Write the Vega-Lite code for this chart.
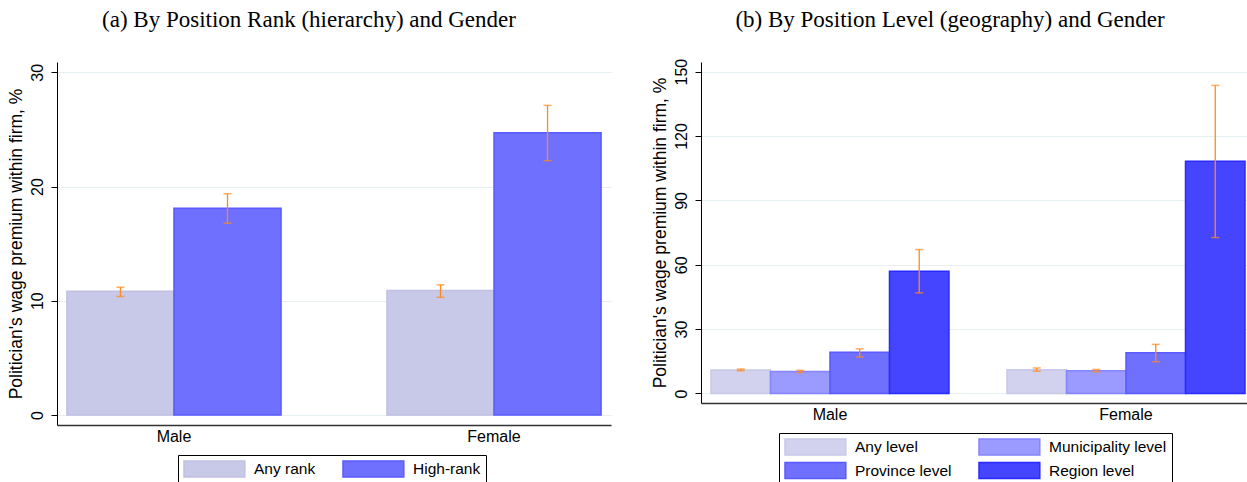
{
  "$schema": "https://vega.github.io/schema/vega-lite/v6.json",
  "background": "white",
  "padding": {"left": 7, "top": 8, "right": 0, "bottom": 0},
  "datasets": {
    "rank": [
      {"gender": "Male", "rank": "Any rank", "premium": 10.83, "lo": 10.37, "hi": 11.18},
      {"gender": "Male", "rank": "High-rank", "premium": 18.1, "lo": 16.79, "hi": 19.37},
      {"gender": "Female", "rank": "Any rank", "premium": 10.9, "lo": 10.3, "hi": 11.39},
      {"gender": "Female", "rank": "High-rank", "premium": 24.7, "lo": 22.26, "hi": 27.1}
    ],
    "level": [
      {"gender": "Male", "level": "Any level", "premium": 11.0, "lo": 10.6, "hi": 11.4},
      {"gender": "Male", "level": "Municipality level", "premium": 10.3, "lo": 9.8, "hi": 10.8},
      {"gender": "Male", "level": "Province level", "premium": 19.2, "lo": 17.0, "hi": 20.8},
      {"gender": "Male", "level": "Region level", "premium": 57.0, "lo": 46.9, "hi": 67.1},
      {"gender": "Female", "level": "Any level", "premium": 11.1, "lo": 10.4, "hi": 11.9},
      {"gender": "Female", "level": "Municipality level", "premium": 10.6, "lo": 10.1, "hi": 11.2},
      {"gender": "Female", "level": "Province level", "premium": 19.0, "lo": 14.8, "hi": 22.9},
      {"gender": "Female", "level": "Region level", "premium": 108.3, "lo": 72.7, "hi": 143.6}
    ]
  },
  "spacing": 40,
  "hconcat": [
    {
      "title": {"text": "(a) By Position Rank (hierarchy) and Gender", "offset": 30},
      "width": 554,
      "height": 363,
      "data": {"name": "rank"},
      "encoding": {
        "x": {
          "field": "gender",
          "type": "nominal",
          "sort": ["Male", "Female"],
          "scale": {"paddingInner": 0.331, "paddingOuter": 0.031}
        },
        "xOffset": {"field": "rank", "type": "nominal", "sort": ["Any rank", "High-rank"]}
      },
      "layer": [
        {
          "mark": {"type": "bar", "strokeWidth": 1.5},
          "encoding": {
            "y": {
              "field": "premium",
              "type": "quantitative",
              "title": "Politician's wage premium within firm, %",
              "scale": {"domain": [-0.88, 30.9], "nice": false, "zero": false},
              "axis": {"values": [0, 10, 20, 30]}
            },
            "color": {
              "field": "rank",
              "type": "nominal",
              "scale": {"domain": ["Any rank", "High-rank"], "range": ["#c8c8e8", "#7070ff"]},
              "legend": {"legendX": 121, "legendY": 393}
            },
            "stroke": {
              "field": "rank",
              "type": "nominal",
              "scale": {"domain": ["Any rank", "High-rank"], "range": ["#c0c0e2", "#5a5aff"]},
              "legend": {"legendX": 121, "legendY": 393}
            }
          }
        },
        {
          "mark": {"type": "rule", "color": "#ff8a1c", "strokeWidth": 1.3},
          "encoding": {
            "y": {"field": "lo", "type": "quantitative", "title": "Politician's wage premium within firm, %"},
            "y2": {"field": "hi"}
          }
        },
        {
          "mark": {"type": "tick", "color": "#ff8a1c", "size": 8, "thickness": 1.5},
          "encoding": {
            "y": {"field": "lo", "type": "quantitative", "title": "Politician's wage premium within firm, %"}
          }
        },
        {
          "mark": {"type": "tick", "color": "#ff8a1c", "size": 8, "thickness": 1.5},
          "encoding": {
            "y": {"field": "hi", "type": "quantitative", "title": "Politician's wage premium within firm, %"}
          }
        }
      ]
    },
    {
      "title": {"text": "(b) By Position Level (geography) and Gender", "offset": 26.5},
      "width": 548,
      "height": 341,
      "data": {"name": "level"},
      "encoding": {
        "x": {
          "field": "gender",
          "type": "nominal",
          "sort": ["Male", "Female"],
          "scale": {"paddingInner": 0.196, "paddingOuter": 0.0236, "align": 0.714}
        },
        "xOffset": {
          "field": "level",
          "type": "nominal",
          "sort": ["Any level", "Municipality level", "Province level", "Region level"]
        }
      },
      "layer": [
        {
          "mark": {"type": "bar", "strokeWidth": 1.5},
          "encoding": {
            "y": {
              "field": "premium",
              "type": "quantitative",
              "title": "Politician's wage premium within firm, %",
              "scale": {"domain": [-4.43, 154.5], "nice": false, "zero": false},
              "axis": {"values": [0, 30, 60, 90, 120, 150]}
            },
            "color": {
              "field": "level",
              "type": "nominal",
              "scale": {
                "domain": ["Any level", "Municipality level", "Province level", "Region level"],
                "range": ["#d2d2ee", "#9a9aff", "#7070ff", "#4545ff"]
              },
              "legend": {"legendX": 78, "legendY": 371, "columns": 2}
            },
            "stroke": {
              "field": "level",
              "type": "nominal",
              "scale": {
                "domain": ["Any level", "Municipality level", "Province level", "Region level"],
                "range": ["#c8c8e8", "#8585ff", "#5a5aff", "#2a2aff"]
              },
              "legend": {"legendX": 78, "legendY": 371, "columns": 2}
            }
          }
        },
        {
          "mark": {"type": "rule", "color": "#ff8a1c", "strokeWidth": 1.3},
          "encoding": {
            "y": {"field": "lo", "type": "quantitative", "title": "Politician's wage premium within firm, %"},
            "y2": {"field": "hi"}
          }
        },
        {
          "mark": {"type": "tick", "color": "#ff8a1c", "size": 8, "thickness": 1.5},
          "encoding": {
            "y": {"field": "lo", "type": "quantitative", "title": "Politician's wage premium within firm, %"}
          }
        },
        {
          "mark": {"type": "tick", "color": "#ff8a1c", "size": 8, "thickness": 1.5},
          "encoding": {
            "y": {"field": "hi", "type": "quantitative", "title": "Politician's wage premium within firm, %"}
          }
        }
      ]
    }
  ],
  "resolve": {"scale": {"color": "independent", "stroke": "independent", "y": "independent", "x": "independent", "xOffset": "independent"}},
  "config": {
    "font": "Liberation Sans",
    "view": {"stroke": null},
    "title": {
      "font": "Liberation Serif",
      "fontSize": 23,
      "fontWeight": "normal",
      "color": "black",
      "anchor": "middle",
      "frame": "bounds"
    },
    "axis": {
      "labelFont": "Liberation Sans",
      "titleFont": "Liberation Sans",
      "labelColor": "black",
      "titleColor": "black",
      "titleFontWeight": "normal"
    },
    "axisY": {
      "labelAngle": -90,
      "labelFontSize": 16,
      "titleFontSize": 17.5,
      "domainColor": "black",
      "tickColor": "black",
      "tickSize": 6,
      "labelPadding": 6,
      "gridColor": "#e6eff1",
      "gridWidth": 1,
      "titlePadding": 4
    },
    "axisX": {
      "labelAngle": 0,
      "labelFontSize": 16,
      "domainColor": "#333333",
      "domainWidth": 1.5,
      "ticks": false,
      "title": null,
      "labelPadding": 3,
      "grid": false
    },
    "legend": {
      "orient": "none",
      "direction": "horizontal",
      "title": null,
      "strokeColor": "black",
      "fillColor": "white",
      "padding": 5,
      "symbolType": "M-1,-1H6.6V1H-1Z",
      "symbolSize": 256,
      "symbolStrokeWidth": 1.5,
      "symbolOpacity": 1,
      "labelOffset": 53,
      "labelFontSize": 15.5,
      "labelColor": "black",
      "columnPadding": 24,
      "rowPadding": 1.5
    }
  }
}
